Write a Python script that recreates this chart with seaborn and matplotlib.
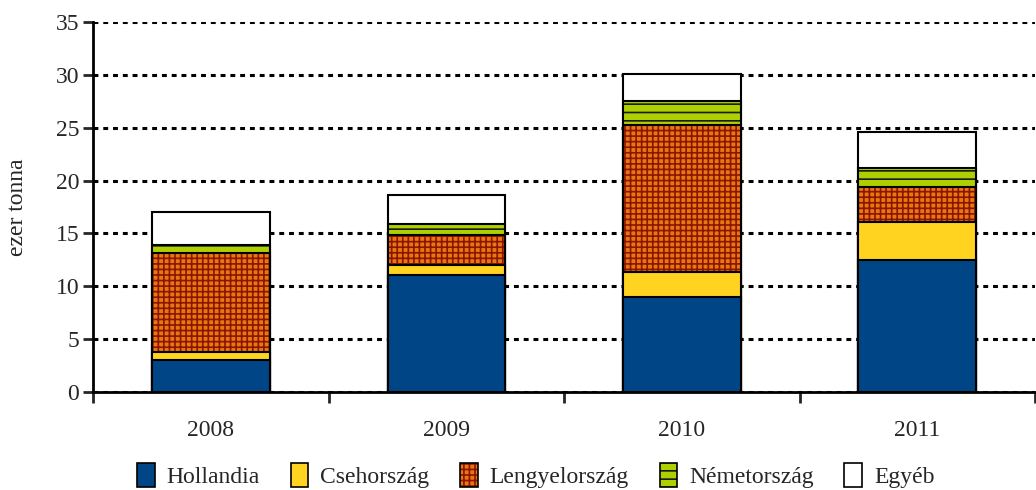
import numpy as np
import matplotlib
matplotlib.use("Agg")
import matplotlib.pyplot as plt
import seaborn as sns
from matplotlib.patches import Patch
from matplotlib.legend_handler import HandlerTuple

# data (ezer tonna)
years = ["2008", "2009", "2010", "2011"]
hollandia = [3.0, 11.07, 9.0, 12.45]
cseh = [0.77, 0.98, 2.35, 3.65]
lengyel = [9.4, 2.77, 13.9, 3.27]
nemet = [0.75, 1.05, 2.25, 1.83]
egyeb = [3.1, 2.75, 2.6, 3.4]

series = ["Hollandia", "Csehország", "Lengyelország", "Németország", "Egyéb"]
values = [hollandia, cseh, lengyel, nemet, egyeb]
fills = ["#004586", "#FFD320", "#E8770F", "#AECF00", "#FFFFFF"]
hatches = [None, None, "+++", "--", None]
hatch_cols = [None, None, "#8B1500", "#1a1a1a", None]

sns.set_style("white")
plt.rcParams["font.family"] = ["Liberation Serif", "DejaVu Serif"]
plt.rcParams["hatch.linewidth"] = 1.2

fig, ax = plt.subplots(figsize=(10.36, 4.9), dpi=100)
fig.subplots_adjust(left=0.09, right=0.999, top=0.955, bottom=0.2)

cum = np.cumsum(np.array(values), axis=0)
handles = []
# draw cumulative totals from the top layer down so lower layers cover them
for i in range(len(series) - 1, -1, -1):
    if hatches[i]:
        sns.barplot(x=years, y=cum[i], color=fills[i], width=0.5, ax=ax,
                    edgecolor=hatch_cols[i], linewidth=0, hatch=hatches[i],
                    saturation=1, zorder=3)
        sns.barplot(x=years, y=cum[i], fill=False, width=0.5, ax=ax,
                    edgecolor="black", linewidth=1.5, zorder=3)
        h = (Patch(facecolor=fills[i], edgecolor=hatch_cols[i], hatch=hatches[i], linewidth=0),
             Patch(fill=False, edgecolor="black", linewidth=1.2))
    else:
        sns.barplot(x=years, y=cum[i], color=fills[i], width=0.5, ax=ax,
                    edgecolor="black", linewidth=1.5, saturation=1, zorder=3)
        h = Patch(facecolor=fills[i], edgecolor="black", linewidth=1.2)
    handles.insert(0, h)

ax.set_ylim(0, 35)
ax.set_xlim(-0.5, 3.5)
ax.set_yticks(range(0, 36, 5))
ax.yaxis.grid(True, color="black", linestyle=(0, (1.6, 1.6)), linewidth=2.2, zorder=0)
ax.set_axisbelow(True)
ax.set_ylabel("ezer tonna", fontsize=17, labelpad=20)
ax.set_xlabel("")

for s in ["top", "right"]:
    ax.spines[s].set_visible(False)
for s in ["left", "bottom"]:
    ax.spines[s].set_color("black")
    ax.spines[s].set_linewidth(2)

ax.tick_params(axis="y", left=True, direction="out", length=7, width=2, labelsize=17, pad=3)
ax.tick_params(axis="x", which="major", length=0, labelsize=17, pad=20)
ax.set_xticks([-0.5, 0.5, 1.5, 2.5, 3.5], minor=True)
ax.tick_params(axis="x", which="minor", bottom=True, direction="out", length=8, width=2)

ax.legend(handles, series, loc="upper center", bbox_to_anchor=(0.47, -0.135),
          ncol=5, frameon=False, fontsize=17, handlelength=0.75, handleheight=1.2,
          handletextpad=0.5, columnspacing=1.3,
          handler_map={tuple: HandlerTuple(ndivide=1)})

fig.savefig("out.png", dpi=100)
